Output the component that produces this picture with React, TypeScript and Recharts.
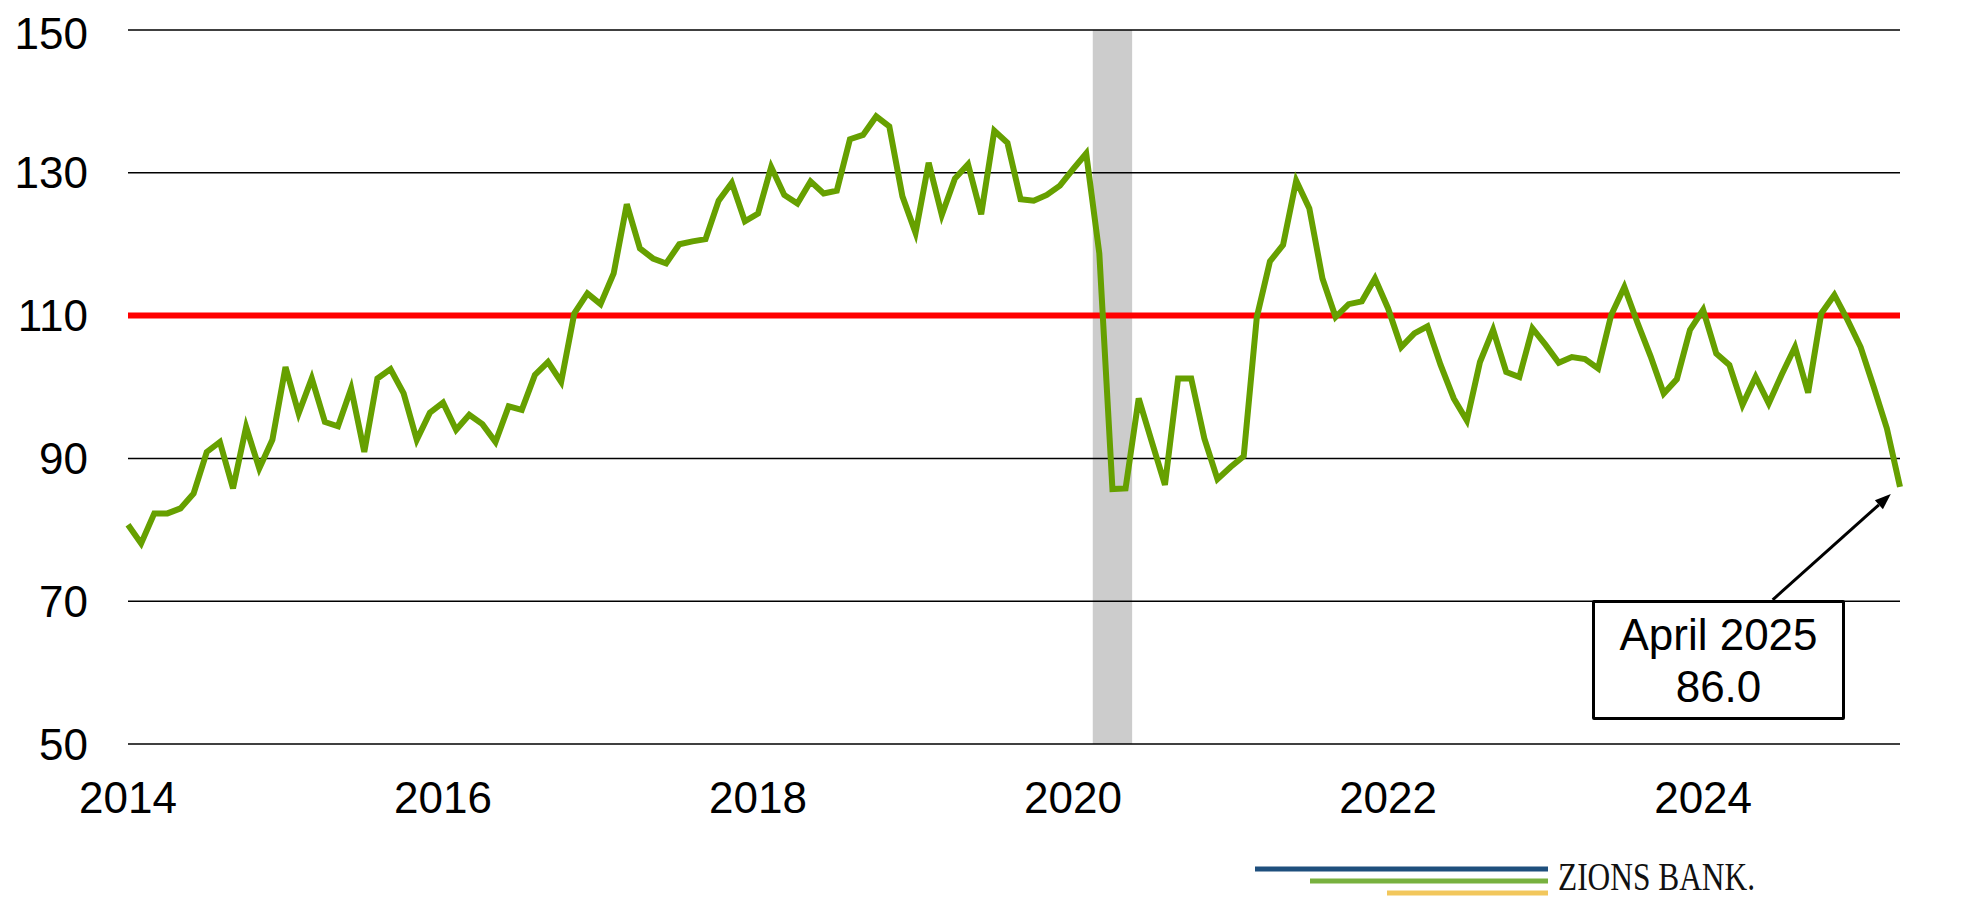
import { Line, LineChart, ReferenceArea, ReferenceLine, XAxis, YAxis } from "recharts"

// monthly index values, Jan 2014 .. Apr 2025
const values = [
  80.7, 78.1, 82.3, 82.3, 83.0, 85.1, 90.9, 92.3, 85.8, 94.4, 88.6, 92.6,
  102.8, 96.3, 101.2, 95.1, 94.5, 99.8, 90.9, 101.2, 102.5, 99.1, 92.6, 96.4,
  97.8, 94.0, 96.1, 94.8, 92.3, 97.3, 96.8, 101.7, 103.5, 100.7, 110.3, 113.1,
  111.6, 115.9, 125.6, 119.4, 118.0, 117.3, 120.0, 120.4, 120.7, 126.1, 128.6, 123.2,
  124.3, 130.8, 126.9, 125.7, 128.8, 127.1, 127.5, 134.7, 135.3, 137.9, 136.5, 126.7,
  121.6, 131.4, 124.1, 129.2, 131.2, 124.2, 135.9, 134.2, 126.3, 126.1, 126.9, 128.2,
  130.5, 132.7, 118.7, 85.7, 85.8, 98.4, 92.3, 86.3, 101.2, 101.2, 92.8, 87.1,
  88.8, 90.3, 109.8, 117.6, 119.9, 128.9, 125.0, 115.2, 109.8, 111.6, 112.0, 115.2,
  111.0, 105.6, 107.5, 108.5, 103.1, 98.4, 95.3, 103.5, 108.0, 102.1, 101.4, 108.2,
  105.9, 103.4, 104.2, 103.9, 102.6, 110.1, 114.0, 109.0, 104.3, 99.1, 101.1, 108.0,
  110.8, 104.7, 103.1, 97.5, 101.4, 97.7, 101.8, 105.6, 99.2, 110.3, 112.9, 109.4,
  105.6, 100.0, 94.2, 86.0,
]

const xTicks = [0, 24, 48, 72, 96, 120]
const yearLabels = ["2014", "2016", "2018", "2020", "2022", "2024"]
const yTicks = [50, 70, 90, 110, 130, 150]
const threshold = 110
const recession = [73.5, 76.5] // Feb-Apr 2020
const arrowFrom = { x: 125.3, y: 70.2 }
const arrowTo = { x: 134.3, y: 85.0 }

const data = values.map((v, i) => ({ m: i, v }))

const font = "'Liberation Sans', Arial, sans-serif"

function Arrow(props: any) {
  const { x1, y1, x2, y2 } = props
  const ang = Math.atan2(y2 - y1, x2 - x1)
  const len = 16
  const w = 6
  const bx = x2 - len * Math.cos(ang)
  const by = y2 - len * Math.sin(ang)
  const px = -Math.sin(ang) * w
  const py = Math.cos(ang) * w
  return (
    <g>
      <line x1={x1} y1={y1} x2={bx} y2={by} stroke="#000" strokeWidth={3} />
      <polygon points={`${x2},${y2} ${bx + px},${by + py} ${bx - px},${by - py}`} fill="#000" />
    </g>
  )
}

export default function App() {
  return (
    <div style={{ position: "relative", width: 1940, height: 892, fontFamily: font }}>
      <LineChart
        width={1940}
        height={880}
        data={data}
        margin={{ top: 22, right: 48, left: 0, bottom: 114 }}
      >
        <XAxis
          dataKey="m"
          type="number"
          domain={[0, 135]}
          ticks={xTicks}
          tickFormatter={(t: number) => yearLabels[xTicks.indexOf(t)]}
          axisLine={false}
          tickLine={false}
          tickMargin={32}
          height={30}
          tick={{ fill: "#000", fontSize: 44, fontFamily: font }}
        />
        <YAxis
          domain={[50, 150]}
          ticks={yTicks}
          axisLine={false}
          tickLine={false}
          tickMargin={34}
          width={120}
          tick={{ fill: "#000", fontSize: 44, fontFamily: font }}
        />
        <ReferenceArea x1={recession[0]} x2={recession[1]} y1={50} y2={150} fill="#cccccc" fillOpacity={1} stroke="none" />
        {yTicks.map((t) => (
          <ReferenceLine key={t} y={t} stroke="#000" strokeWidth={1.5} />
        ))}
        <ReferenceLine y={threshold} stroke="#ff0000" strokeWidth={6} />
        <Line
          type="linear"
          dataKey="v"
          stroke="#66a000"
          strokeWidth={6}
          dot={false}
          activeDot={false}
          isAnimationActive={false}
        />
        <ReferenceLine segment={[arrowFrom, arrowTo]} shape={Arrow} ifOverflow="visible" />
      </LineChart>

      <div
        style={{
          position: "absolute",
          left: 1584,
          top: 592,
          width: 253,
          height: 120,
          boxSizing: "border-box",
          border: "3px solid #000",
          borderRadius: 2,
          background: "#fff",
          textAlign: "center",
          fontSize: 44,
          lineHeight: "52px",
          paddingTop: 6,
          color: "#000",
        }}
      >
        <div>April 2025</div>
        <div>86.0</div>
      </div>

      <svg style={{ position: "absolute", left: 1240, top: 846, overflow: "visible" }} width={530} height={46}>
        <rect x={7} y={12.5} width={293} height={5} fill="#1e4f7d" />
        <rect x={62} y={24.5} width={238} height={5} fill="#78b13f" />
        <rect x={139} y={36.5} width={161} height={5} fill="#f2c75c" />
        <text
          x={310}
          y={36}
          fontFamily="'Liberation Serif', 'Times New Roman', serif"
          fontSize={41}
          textLength={197}
          lengthAdjust="spacingAndGlyphs"
          fill="#111"
        >
          ZIONS BANK.
        </text>
      </svg>
    </div>
  )
}
